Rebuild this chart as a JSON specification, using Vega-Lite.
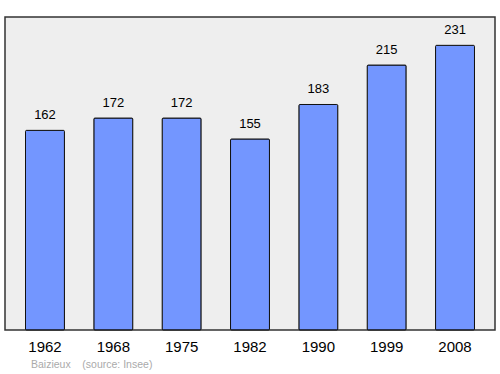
{
  "$schema": "https://vega.github.io/schema/vega-lite/v6.json",
  "width": 490,
  "height": 313,
  "autosize": {"type": "none"},
  "padding": {"left": 5, "top": 17, "right": 5, "bottom": 44},
  "background": "white",
  "config": {
    "font": "Liberation Sans",
    "view": {"fill": "#eeeeee", "stroke": "#333333", "strokeWidth": 1.5}
  },
  "title": {
    "text": "Baizieux\u00a0\u00a0\u00a0\u00a0(source: Insee)",
    "orient": "bottom",
    "anchor": "start",
    "dx": 26,
    "offset": 6,
    "fontSize": 10.5,
    "fontWeight": "normal",
    "color": "#aaaaaa",
    "font": "Liberation Sans"
  },
  "data": {
    "values": [
      {"year": "1962", "pop": 162},
      {"year": "1968", "pop": 172},
      {"year": "1975", "pop": 172},
      {"year": "1982", "pop": 155},
      {"year": "1990", "pop": 183},
      {"year": "1999", "pop": 215},
      {"year": "2008", "pop": 231}
    ]
  },
  "encoding": {
    "x": {
      "field": "year",
      "type": "ordinal",
      "sort": null,
      "scale": {"paddingInner": 0.43, "paddingOuter": 0.3},
      "axis": {
        "title": null,
        "labelAngle": 0,
        "ticks": false,
        "domain": false,
        "labelFontSize": 15,
        "labelColor": "#000000",
        "labelPadding": 9,
        "labelFont": "Liberation Sans"
      }
    },
    "y": {
      "field": "pop",
      "type": "quantitative",
      "scale": {"domain": [0, 254], "nice": false},
      "axis": null
    }
  },
  "layer": [
    {
      "mark": {"type": "bar", "color": "#7396ff", "stroke": "#111111", "strokeWidth": 1, "cornerRadius": 1}
    },
    {
      "mark": {"type": "text", "baseline": "bottom", "dy": -8, "fontSize": 13, "color": "#000000", "font": "Liberation Sans"},
      "encoding": {"text": {"field": "pop", "type": "quantitative"}}
    }
  ]
}
